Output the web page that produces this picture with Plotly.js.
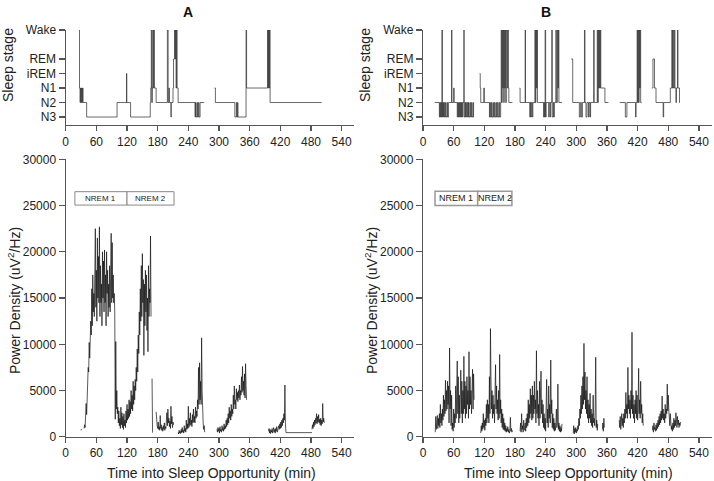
<!DOCTYPE html>
<html>
<head>
<meta charset="utf-8">
<script src="https://cdn.plot.ly/plotly-3.0.1.min.js"></script>
<style>html,body{margin:0;padding:0;background:#fff;}#chart{width:714px;height:481px;}</style>
</head>
<body>
<div id="chart"></div>
<script>
// ---------- tick labels ----------
var xTicks = [0, 60, 120, 180, 240, 300, 360, 420, 480, 540];
var stageVals = [1, 2, 3, 4, 5, 7];
var stageLabels = ['N3', 'N2', 'N1', 'iREM', 'REM', 'Wake'];
var yPowerTicks = [0, 5000, 10000, 15000, 20000, 25000, 30000];
var yPowerTickText = ['0', '5000', '10000', '15000', '20000', '25000', '30000'];
var boxLabels = ['NREM 1', 'NREM 2'];

// ---------- hypnogram A (minutes, stage code) ----------
var hypA1_t = [26,27,28,29,30,31,32,33,34,41,100.5,119,119.6,127,165.5,166.5,167.5,168.5,169.5,170.5,171.5,172.5,173.5,177,199,200.5,202,203,206,206.5,210,211,213,214,215,216,217,218,220,253,254,255,257,258,260,261,263,271];
var hypA1_s = [7,3,2,3,2,3,2,3,2,1,2,4,2,1,2,3,7,2,3,7,3,7,3,2,7,2,3,2,1,2,3,5,7,5,7,3,7,3,2,1,2,1,2,1,2,1,2,2];
var hypA2_t = [291,293,331,334,335,336.5,337,353,354,395,396,397,398,399,400,501];
var hypA2_s = [3,2,1,2,1,2,1,7,3,7,3,7,3,7,2,2];

// ---------- hypnogram B ----------
var hypB1_t = [23,32,33,34,35,36,37,38,39,40,41,42,44,45,47,48,50,56,56.5,60,61,67,68,69,70,71,72,73,74,75,76,77,78,80,80.5,82,83,84,85,87,88,89,90,92,93,95,96,98,99,99.5];
var hypB1_s = [2,1,2,1,2,1,7,1,2,1,2,1,2,1,2,1,2,7,2,3,2,1,2,1,2,1,2,1,2,1,2,1,2,7,1,2,1,2,1,2,1,2,1,2,1,2,1,2,1,1];
var hypB2_t = [111,112,113,119,120,130,131,132,134,135,137,138,140,141,143,144,146,147,149,150,152,153,154,155,156,157,158,159,160,161,162,163,165,166,167,168,175];
var hypB2_s = [4,3,2,3,2,1,2,1,2,1,2,1,2,1,2,1,2,1,2,1,2,7,2,7,3,7,2,7,3,7,2,7,3,7,3,2,2];
var hypB3_t = [189,190,200,200.5,209,210,211,212,214,215,219,220,221,222,223,224,226,236,237,238,239,240,241,246,247,249,250,252,253,255,256,257,260,261,263,264,265,266,272];
var hypB3_s = [3,2,7,2,1,2,1,2,1,2,7,2,7,3,7,2,2,1,2,1,7,1,2,1,2,1,2,7,1,2,1,2,7,2,7,3,7,2,2];
var hypB4_t = [290,293,306,308,310,312,316,317,319,321,324,325,327,328,334,335,341,342,343,344,345,346,347,348,350,356,363];
var hypB4_s = [5,2,1,2,1,2,7,2,1,2,1,2,1,2,7,2,7,2,7,3,7,3,7,3,3,2,2];
var hypB5_t = [385,396,399,416,417,419,420,421,422,423,424,425,426,428];
var hypB5_s = [2,1,2,1,2,7,2,7,2,7,3,7,2,2];
var hypB6_t = [448,450,453,456,470,471,484,487,488,489,490,492,493,495,496,498,499,502,503];
var hypB6_s = [3,5,3,2,1,2,3,7,3,7,3,7,3,2,3,7,3,2,2];

// ---------- power density A (segment start minute, one value per minute) ----------
var powA0_start = 30;  var powA0 = [700, 850];
var powA1_start = 36;
var powA1 = [900,1300,1000,2200,3600,2400,5200,6500,7500,7000,10200,8500,9800,12500,11000,16000,12000,17500,13500,15500,
  13000,20500,22500,14000,18000,12500,21500,15000,19500,14500,22700,13000,18500,14500,16500,12000,20000,15000,19000,13500,
  20200,14500,17500,12000,20000,15500,18000,13000,16500,14000,18500,13500,16000,22000,14500,21000,15000,17500,14500,15500,13500,
  1900,10300,3000,5000,2500,3200,1500,2800,1200,2000,900,3200,1300,2600,1000,2200,800,2500,1200,1800,1000,2800,1500,3500,1800,
  3000,2000,4000,2200,3800,2500,5000,3000,4500,2800,6000,3500,5500,4000,6200,5000,7500,6000,9500,7000,11000,9000,13500,11000,
  16000,12500,18500,13000,19800,14500,17000,8800,16500,12000,18000,13500,17500,11500,15000,9200,18500,13000,16000,14500,21700,13000];
var powA2_start = 169; var powA2 = [6300, 450];
var powA3_start = 177;
var powA3 = [2700,1500,1200,900,1600,800,1100,700,2300,900,1300,700,1000,600,1200,800,1500,700,1100,900,1800,2600,1200,3000,1500,2000,1100,1700,900,3300,1400,2200,1000,1600,1300];
var powA4_start = 220;
var powA4 = [500,300,700,400,600,350,800,450,1000,500,700,400,1200,600,900,500,1800,800,1400,900,
  3300,1000,2000,1200,2600,1300,1800,1100,2400,1500,3000,1600,2200,1500,3200,2000,2800,2200,4000,3000,
  7500,3500,8000,4000,6000,3500,10700,5000,2000,1500,800,1200,500];
var powA5_start = 296;
var powA5 = [800,500,1000,600,900,400,1100,600,800,500,1200,700,1000,600,1400,800,1200,900,1800,1100,
  2000,1300,2500,1500,3200,2000,2800,1800,3500,2200,3000,2500,4500,3000,5500,3500,4000,3000,5200,4000,
  4800,3800,5000,4200,5600,4000,5000,4500,6500,4800,7600,5000,6000,4500,6800,4200,7900,5500,4000];
var powA6_start = 397;
var powA6 = [600,900,400,800,350,700,500,900,400,600,1000,500,800,400,900,600,1100,500,800,700,
  1200,800,1400,900,1600,1000,1800,1200,2000,1500,2500,1800,5600,1500,450];
var powA7_t = [431, 482]; var powA7 = [450, 450];
var powA8_start = 482;
var powA8 = [800,1300,900,1600,1100,1800,1300,2000,1500,2500,1400,2200,1600,2400,1500,1900,1300,2000,1200,1800,1400,3600,1600,2000,1500];

// ---------- power density B ----------
var powB1_start = 24;
var powB1 = [500,2200,800,1800,2300,900,2000,1200,2500,1000,3500,1500,2500,1200,3000,1800,4500,2200,4000,2500,
  6100,2800,5000,3000,6000,3500,5500,1500,9600,3000,5000,1200,4500,800,1500,600,3000,1000,2500,1500,
  5500,2000,4000,8200,2500,6500,1500,4500,2000,5500,7200,2500,6000,1500,5000,2500,8700,3000,6000,2000,
  5500,2500,6500,3500,5000,2000,9200,3000,6500,3500,5000,2500,6000,7300,3000,6800,4000];
var powB2_start = 113;
var powB2 = [400,1200,600,1500,800,2500,1000,1800,700,2000,1200,3500,1500,4000,2000,3500,1500,6500,2500,11700,
  6500,3000,5000,2000,4500,2500,3500,1500,5000,7800,3000,5500,2500,4000,1800,5000,2000,8900,2500,4000,
  1500,3000,1000,2500,800,2000,700,1500,600,1200,500,900,600,1100,500,800,400,700,2100,600,900,500,700];
var powB3_start = 190;
var powB3 = [600,1500,500,2500,800,1200,500,1800,700,1000,1500,600,2000,1000,2500,1200,4000,1500,3500,2000,
  5200,2500,4500,1800,5500,2000,4500,2500,6000,3000,4000,1500,9300,2500,5000,2000,3500,1200,6000,2000,
  4500,7100,2500,4000,1500,3500,1000,2500,800,2000,600,4500,6200,1500,3000,1000,5500,2000,3500,1500,
  8300,2500,4000,1000,2500,800,2000,600,1500,700,1200,3000,1000,1500,5700,800,1500,600,1200,500,1000,600,1400];
var powB4_start = 294;
var powB4 = [400,1200,300,900,500,1000,400,800,600,1200,800,2000,1200,3000,2000,4500,2500,5500,3000,6500,
  3500,10100,4000,7000,3000,5000,2500,6500,2000,4000,1500,3500,2000,4700,1500,3000,1200,2500,1000,4500,
  1500,2000,1200,3000,8600,1000,1800,700,1400];
var powB5_start = 351; var powB5 = [800,1500,600,2000,1000];
var powB6_start = 384;
var powB6 = [1800,1000,2200,800,1500,2500,1200,2000,1000,2500,1500,3000,2000,4800,2500,3500,2000,7500,3000,4500,
  2500,4000,2000,5000,3000,11300,2500,4500,2000,3500,1500,4000,2500,5000,2000,4500,1800,3000,7400,2500,
  4000,2000,6000,2500,3500,1500,2500,1200];
var powB7_start = 449;
var powB7 = [700,1200,500,1500,800,1000,600,1300,700,1500,900,1800,1100,2200,1300,2500,1500,2800,1800,4400,
  2000,3000,1800,2500,1500,3500,2000,3000,2500,5700,2800,4500,3000,2000,1200,2500,1500,800,1200,600,
  1500,800,2000,1000,1800,1200,2600,1500,1000,2200,1300,1800,1000,1500,1200,1600];

// ---------- helpers ----------
function perMinute(start, vals) {
  return { x: vals.map(function (v, i) { return start + i; }), y: vals };
}
function explicit(t, v) { return { x: t, y: v }; }
function join(segs) {
  var x = [], y = [];
  segs.forEach(function (s, i) {
    if (i > 0) { x.push(null); y.push(null); }
    x = x.concat(s.x); y = y.concat(s.y);
  });
  return { x: x, y: y };
}

var hypA = join([explicit(hypA1_t, hypA1_s), explicit(hypA2_t, hypA2_s)]);
var hypB = join([explicit(hypB1_t, hypB1_s), explicit(hypB2_t, hypB2_s), explicit(hypB3_t, hypB3_s),
                 explicit(hypB4_t, hypB4_s), explicit(hypB5_t, hypB5_s), explicit(hypB6_t, hypB6_s)]);
var powA = join([perMinute(powA0_start, powA0), perMinute(powA1_start, powA1), perMinute(powA2_start, powA2),
                 perMinute(powA3_start, powA3), perMinute(powA4_start, powA4), perMinute(powA5_start, powA5),
                 perMinute(powA6_start, powA6), explicit(powA7_t, powA7), perMinute(powA8_start, powA8)]);
var powB = join([perMinute(powB1_start, powB1), perMinute(powB2_start, powB2), perMinute(powB3_start, powB3),
                 perMinute(powB4_start, powB4), perMinute(powB5_start, powB5), perMinute(powB6_start, powB6),
                 perMinute(powB7_start, powB7)]);

var hypLine = { color: '#2a2a2a', width: 0.7, shape: 'hv' };
var powLine = { color: '#111', width: 0.7 };

var traces = [
  { type: 'scatter', mode: 'lines', x: hypA.x, y: hypA.y, xaxis: 'x', yaxis: 'y', line: hypLine, connectgaps: false, hoverinfo: 'skip' },
  { type: 'scatter', mode: 'lines', x: hypB.x, y: hypB.y, xaxis: 'x2', yaxis: 'y2', line: hypLine, connectgaps: false, hoverinfo: 'skip' },
  { type: 'scatter', mode: 'lines', x: powA.x, y: powA.y, xaxis: 'x3', yaxis: 'y3', line: powLine, connectgaps: false, hoverinfo: 'skip' },
  { type: 'scatter', mode: 'lines', x: powB.x, y: powB.y, xaxis: 'x4', yaxis: 'y4', line: powLine, connectgaps: false, hoverinfo: 'skip' }
];

var W = 714, H = 481;
function px(x) { return x / W; }
function py(y) { return 1 - y / H; }

var FONT = 'Liberation Sans, Arial, Helvetica, sans-serif';
var axisCommon = {
  showline: true, linecolor: '#555', linewidth: 1.2, ticks: 'outside', ticklen: 5, tickwidth: 1.2, tickcolor: '#555',
  showgrid: false, zeroline: false, automargin: false, fixedrange: true,
  tickfont: { family: FONT, size: 12, color: '#222' }
};
function ax(extra) { return Object.assign({}, axisCommon, extra); }

var domA = [px(65.7), px(354.4)];
var domB = [px(423), px(711.7)];
var domTop = [py(125), py(30)];
var domBot = [py(436.8), py(159.3)];

var layout = {
  width: W, height: H, showlegend: false,
  margin: { l: 0, r: 0, t: 0, b: 0 },
  paper_bgcolor: '#fff', plot_bgcolor: '#fff',
  font: { family: FONT, color: '#222' },
  xaxis:  ax({ domain: domA, range: [0, 565], anchor: 'y',  tickmode: 'array', tickvals: xTicks }),
  yaxis:  ax({ domain: domTop, range: [0.45, 7], anchor: 'x', tickmode: 'array', tickvals: stageVals, ticktext: stageLabels, ticklen: 6 }),
  xaxis2: ax({ domain: domB, range: [0, 565], anchor: 'y2', tickmode: 'array', tickvals: xTicks }),
  yaxis2: ax({ domain: domTop, range: [0.45, 7], anchor: 'x2', tickmode: 'array', tickvals: stageVals, ticktext: stageLabels, ticklen: 6 }),
  xaxis3: ax({ domain: domA, range: [0, 565], anchor: 'y3', tickmode: 'array', tickvals: xTicks }),
  yaxis3: ax({ domain: domBot, range: [0, 30000], anchor: 'x3', tickmode: 'array', tickvals: yPowerTicks, ticktext: yPowerTickText, ticklen: 6 }),
  xaxis4: ax({ domain: domB, range: [0, 565], anchor: 'y4', tickmode: 'array', tickvals: xTicks }),
  yaxis4: ax({ domain: domBot, range: [0, 30000], anchor: 'x4', tickmode: 'array', tickvals: yPowerTicks, ticktext: yPowerTickText, ticklen: 6 }),
  shapes: [
    { type: 'rect', xref: 'x3', yref: 'y3', x0: 18, x1: 120, y0: 25050, y1: 26500, line: { color: '#888', width: 1 }, fillcolor: '#fff' },
    { type: 'rect', xref: 'x3', yref: 'y3', x0: 120, x1: 212, y0: 25050, y1: 26500, line: { color: '#888', width: 1 }, fillcolor: '#fff' },
    { type: 'rect', xref: 'x4', yref: 'y4', x0: 23.5, x1: 107, y0: 25000, y1: 26550, line: { color: '#999', width: 1.5 }, fillcolor: '#fff' },
    { type: 'rect', xref: 'x4', yref: 'y4', x0: 107, x1: 174, y0: 25000, y1: 26550, line: { color: '#999', width: 1.5 }, fillcolor: '#fff' }
  ],
  annotations: [
    { text: '<b>A</b>', xref: 'paper', yref: 'paper', x: px(188), y: py(12), xanchor: 'center', yanchor: 'middle', showarrow: false, font: { family: FONT, size: 14, color: '#111' } },
    { text: '<b>B</b>', xref: 'paper', yref: 'paper', x: px(546), y: py(12), xanchor: 'center', yanchor: 'middle', showarrow: false, font: { family: FONT, size: 14, color: '#111' } },
    { text: 'Sleep stage', xref: 'paper', yref: 'paper', x: px(8), y: py(65), textangle: -90, xanchor: 'center', yanchor: 'middle', showarrow: false, font: { family: FONT, size: 14, color: '#222' } },
    { text: 'Sleep stage', xref: 'paper', yref: 'paper', x: px(365), y: py(65), textangle: -90, xanchor: 'center', yanchor: 'middle', showarrow: false, font: { family: FONT, size: 14, color: '#222' } },
    { text: 'Power Density (uV<sup>2</sup>/Hz)', xref: 'paper', yref: 'paper', x: px(14), y: py(301), textangle: -90, xanchor: 'center', yanchor: 'middle', showarrow: false, font: { family: FONT, size: 14, color: '#222' } },
    { text: 'Power Density (uV<sup>2</sup>/Hz)', xref: 'paper', yref: 'paper', x: px(371), y: py(301), textangle: -90, xanchor: 'center', yanchor: 'middle', showarrow: false, font: { family: FONT, size: 14, color: '#222' } },
    { text: 'Time into Sleep Opportunity (min)', xref: 'paper', yref: 'paper', x: px(211), y: py(473), xanchor: 'center', yanchor: 'middle', showarrow: false, font: { family: FONT, size: 14, color: '#222' } },
    { text: 'Time into Sleep Opportunity (min)', xref: 'paper', yref: 'paper', x: px(568), y: py(473), xanchor: 'center', yanchor: 'middle', showarrow: false, font: { family: FONT, size: 14, color: '#222' } },
    { text: boxLabels[0], xref: 'x3', yref: 'y3', x: 69, y: 25775, xanchor: 'center', yanchor: 'middle', showarrow: false, font: { family: FONT, size: 8, color: '#222' } },
    { text: boxLabels[1], xref: 'x3', yref: 'y3', x: 166, y: 25775, xanchor: 'center', yanchor: 'middle', showarrow: false, font: { family: FONT, size: 8, color: '#222' } },
    { text: boxLabels[0], xref: 'x4', yref: 'y4', x: 65.25, y: 25775, xanchor: 'center', yanchor: 'middle', showarrow: false, font: { family: FONT, size: 9, color: '#222' } },
    { text: boxLabels[1], xref: 'x4', yref: 'y4', x: 140.5, y: 25775, xanchor: 'center', yanchor: 'middle', showarrow: false, font: { family: FONT, size: 9, color: '#222' } }
  ]
};

Plotly.newPlot('chart', traces, layout, { staticPlot: true, displayModeBar: false });
</script>
</body>
</html>
